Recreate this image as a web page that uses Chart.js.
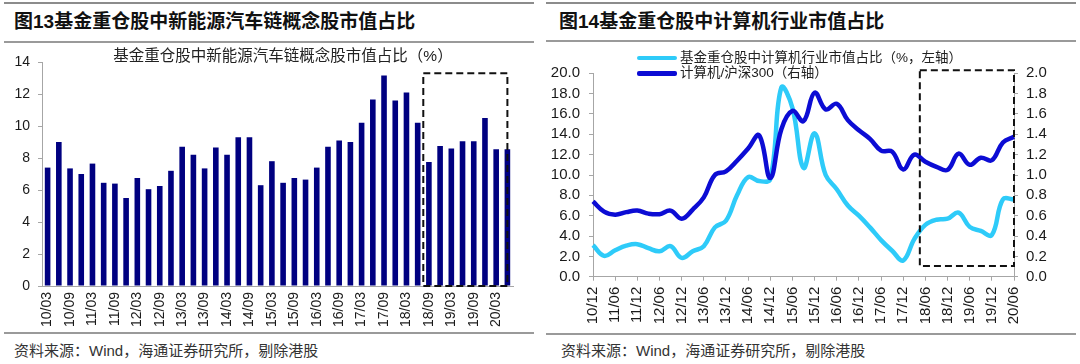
<!DOCTYPE html>
<html>
<head>
<meta charset="utf-8">
<script src="https://cdn.jsdelivr.net/npm/chart.js@4.4.0/dist/chart.umd.min.js"></script>
<style>
  body { margin: 0; background: #fff; }
  #page { position: relative; width: 1080px; height: 364px; overflow: hidden;
          font-family: 'Liberation Sans', 'Noto Sans CJK SC', sans-serif; }
  .rule { position: absolute; height: 2px; background: #8c8c8c; }
  .rule.thin { height: 1.5px; background: #9a9a9a; }
  .title { position: absolute; font-size: 19px; font-weight: bold; line-height: 20px; color: #111; white-space: nowrap; }
  .source { position: absolute; font-size: 15px; line-height: 18px; color: #333; white-space: nowrap; }
  .sub { position: absolute; font-size: 15.5px; line-height: 18px; color: #222; white-space: nowrap; text-align: center; }
  .legline { position: absolute; width: 40px; height: 4.5px; border-radius: 2px; }
  .legtext { position: absolute; font-size: 13.5px; line-height: 18px; color: #222; white-space: nowrap; }
  canvas { position: absolute; }
</style>
</head>
<body>
<div id="page">
  <div class="rule" style="left:4px; top:2px; width:530px;"></div>
  <div class="rule thin" style="left:4px; top:41px; width:530px;"></div>
  <div class="rule thin" style="left:4px; top:332px; width:530px;"></div>
  <div class="rule" style="left:546px; top:2px; width:530px;"></div>
  <div class="rule thin" style="left:546px; top:40px; width:530px;"></div>
  <div class="rule thin" style="left:546px; top:333px; width:530px;"></div>

  <div class="title" style="left:14px; top:12px;">图13基金重仓股中新能源汽车链概念股市值占比</div>
  <div class="title" style="left:559px; top:12px;">图14基金重仓股中计算机行业市值占比</div>

  <canvas id="nevChart" width="540" height="290" style="left:0; top:45px;"></canvas>
  <canvas id="techChart" width="540" height="290" style="left:540px; top:45px;"></canvas>

  <div class="sub" style="left:0; width:566px; top:47px;">基金重仓股中新能源汽车链概念股市值占比（%）</div>

  <div class="legline" style="left:637px; top:55.8px; background:#2ecbf9;"></div>
  <div class="legtext" style="left:680px; top:49px;">基金重仓股中计算机行业市值占比（%，左轴）</div>
  <div class="legline" style="left:637px; top:71px; background:#0c0cd4;"></div>
  <div class="legtext" style="left:680px; top:64.3px;">计算机/沪深300（右轴）</div>

  <div class="source" style="left:14px; top:342px;">资料来源：Wind，海通证券研究所，剔除港股</div>
  <div class="source" style="left:561px; top:342px;">资料来源：Wind，海通证券研究所，剔除港股</div>
</div>

<script>
// Fig 13: quarterly share of NEV-chain stocks in fund heavy holdings (%)
const nevQuarters = [
  '10/03', '10/06', '10/09', '10/12', '11/03', '11/06', '11/09', '11/12',
  '12/03', '12/06', '12/09', '12/12', '13/03', '13/06', '13/09', '13/12',
  '14/03', '14/06', '14/09', '14/12', '15/03', '15/06', '15/09', '15/12',
  '16/03', '16/06', '16/09', '16/12', '17/03', '17/06', '17/09', '17/12',
  '18/03', '18/06', '18/09', '18/12', '19/03', '19/06', '19/09', '19/12',
  '20/03', '20/06'
];
const nevShare = [
  7.4, 9.0, 7.35, 7.0, 7.65, 6.45, 6.4, 5.5,
  6.75, 6.05, 6.25, 7.2, 8.7, 8.2, 7.35, 8.65,
  8.2, 9.3, 9.3, 6.3, 7.8, 6.45, 6.75, 6.65,
  7.4, 8.7, 9.1, 9.0, 10.2, 11.65, 13.15, 11.6,
  12.1, 10.2, 7.75, 8.75, 8.6, 9.05, 9.05, 10.5,
  8.55, 8.55
];
// dashed highlight box (category index range, value range)
const nevBox = { x0: 33.5, x1: 41, y0: 0, y1: 13.3 };

// Fig 14: computer industry share (%, left) and computer / CSI300 (right)
const techQuarters = [
  '10/12', '11/03', '11/06', '11/09', '11/12', '12/03', '12/06', '12/09',
  '12/12', '13/03', '13/06', '13/09', '13/12', '14/03', '14/06', '14/09',
  '14/12', '15/03', '15/06', '15/09', '15/12', '16/03', '16/06', '16/09',
  '16/12', '17/03', '17/06', '17/09', '17/12', '18/03', '18/06', '18/09',
  '18/12', '19/03', '19/06', '19/09', '19/12', '20/03', '20/06'
];
const techShare = [
  3.1, 2.05, 2.6, 3.05, 3.2, 2.8, 2.5, 3.0,
  1.85, 2.5, 3.0, 4.85, 5.5, 8.0, 9.8, 9.4,
  9.6, 18.6, 16.6, 10.7, 14.1, 10.0, 8.6, 7.0,
  6.0, 4.85, 3.6, 2.55, 1.6, 3.7, 5.1, 5.6,
  5.7, 6.3, 4.9, 4.5, 4.1, 7.6, 7.6
];
const techVsHs300 = [
  0.74, 0.64, 0.61, 0.635, 0.65, 0.62, 0.615, 0.65,
  0.57, 0.66, 0.78, 1.0, 1.035, 1.14, 1.26, 1.39,
  0.97, 1.45, 1.63, 1.53, 1.81, 1.645, 1.70, 1.54,
  1.44, 1.355, 1.24, 1.23, 1.055, 1.2, 1.13, 1.08,
  1.05, 1.21, 1.10, 1.17, 1.145, 1.32, 1.375
];
const techBox = { x0: 29.5, x1: 38, y0: 1.05, y1: 20.3 };

const axisGray = '#a6a6a6';
Chart.defaults.font.family = "'Liberation Sans', 'Noto Sans CJK SC', sans-serif";
Chart.defaults.color = '#1a1a1a';

// draws the dashed rectangle in data units
const dashBoxPlugin = {
  id: 'dashBox',
  afterDatasetsDraw(chart, args, opts) {
    if (!opts.box) return;
    const b = opts.box;
    const xs = chart.scales.x, ys = chart.scales[opts.axis || 'y'];
    const left = xs.getPixelForValue(b.x0), right = xs.getPixelForValue(b.x1);
    const top = ys.getPixelForValue(b.y1), bottom = ys.getPixelForValue(b.y0);
    const ctx = chart.ctx;
    ctx.save();
    ctx.strokeStyle = '#111';
    ctx.lineWidth = 2;
    ctx.setLineDash([7, 4]);
    ctx.strokeRect(left, top, right - left, bottom - top);
    ctx.restore();
  }
};

function everyOther(value, index) {
  return index % 2 === 0 ? this.getLabelForValue(value) : null;
}

new Chart(document.getElementById('nevChart'), {
  type: 'bar',
  data: {
    labels: nevQuarters,
    datasets: [{
      data: nevShare,
      backgroundColor: '#000080',
      barPercentage: 0.5,
      categoryPercentage: 1
    }]
  },
  options: {
    responsive: false,
    animation: false,
    layout: { padding: { top: 17, right: 27, left: 0, bottom: 0 } },
    plugins: {
      legend: { display: false },
      tooltip: { enabled: false },
      dashBox: { box: nevBox }
    },
    scales: {
      x: {
        grid: { drawOnChartArea: false, drawTicks: false },
        border: { color: axisGray },
        ticks: { autoSkip: false, minRotation: 90, maxRotation: 90, padding: 6,
                 font: { size: 14 }, callback: everyOther },
        afterFit: s => { s.height = 49; }
      },
      y: {
        min: 0, max: 14,
        ticks: { stepSize: 2, autoSkip: false, padding: 8, font: { size: 14 } },
        grid: { drawOnChartArea: false, tickLength: 4, color: axisGray },
        border: { color: axisGray },
        afterFit: s => { s.width = 42; }
      }
    }
  },
  plugins: [dashBoxPlugin]
});

new Chart(document.getElementById('techChart'), {
  type: 'line',
  data: {
    labels: techQuarters,
    datasets: [
      {
        label: '计算机/沪深300（右轴）',
        data: techVsHs300,
        yAxisID: 'y1',
        borderColor: '#0c0cd4',
        borderWidth: 4.5,
        pointRadius: 0,
        tension: 0.4
      },
      {
        label: '基金重仓股中计算机行业市值占比（%，左轴）',
        data: techShare,
        yAxisID: 'y',
        borderColor: '#2ecbf9',
        borderWidth: 4.5,
        pointRadius: 0,
        tension: 0.4
      }
    ]
  },
  options: {
    responsive: false,
    animation: false,
    layout: { padding: { top: 28.3, right: 0, left: 0, bottom: 0 } },
    plugins: {
      legend: { display: false },
      tooltip: { enabled: false },
      dashBox: { box: techBox, axis: 'y' }
    },
    scales: {
      x: {
        grid: { drawOnChartArea: false, tickLength: 4, color: axisGray },
        border: { color: axisGray },
        ticks: { autoSkip: false, minRotation: 90, maxRotation: 90, padding: 6,
                 font: { size: 15 }, callback: everyOther },
        afterFit: s => { s.height = 58.3; }
      },
      y: {
        position: 'left',
        min: 0, max: 20,
        ticks: { stepSize: 2, autoSkip: false, padding: 9, font: { size: 15 },
                 callback: v => v.toFixed(1) },
        grid: { drawOnChartArea: false, tickLength: 4, color: axisGray },
        border: { color: axisGray },
        afterFit: s => { s.width = 53; }
      },
      y1: {
        position: 'right',
        min: 0, max: 2,
        ticks: { stepSize: 0.2, autoSkip: false, padding: 8, font: { size: 15 },
                 callback: v => v.toFixed(1) },
        grid: { drawOnChartArea: false, tickLength: 4, color: axisGray },
        border: { color: axisGray },
        afterFit: s => { s.width = 66; }
      }
    }
  },
  plugins: [dashBoxPlugin]
});
</script>
</body>
</html>
